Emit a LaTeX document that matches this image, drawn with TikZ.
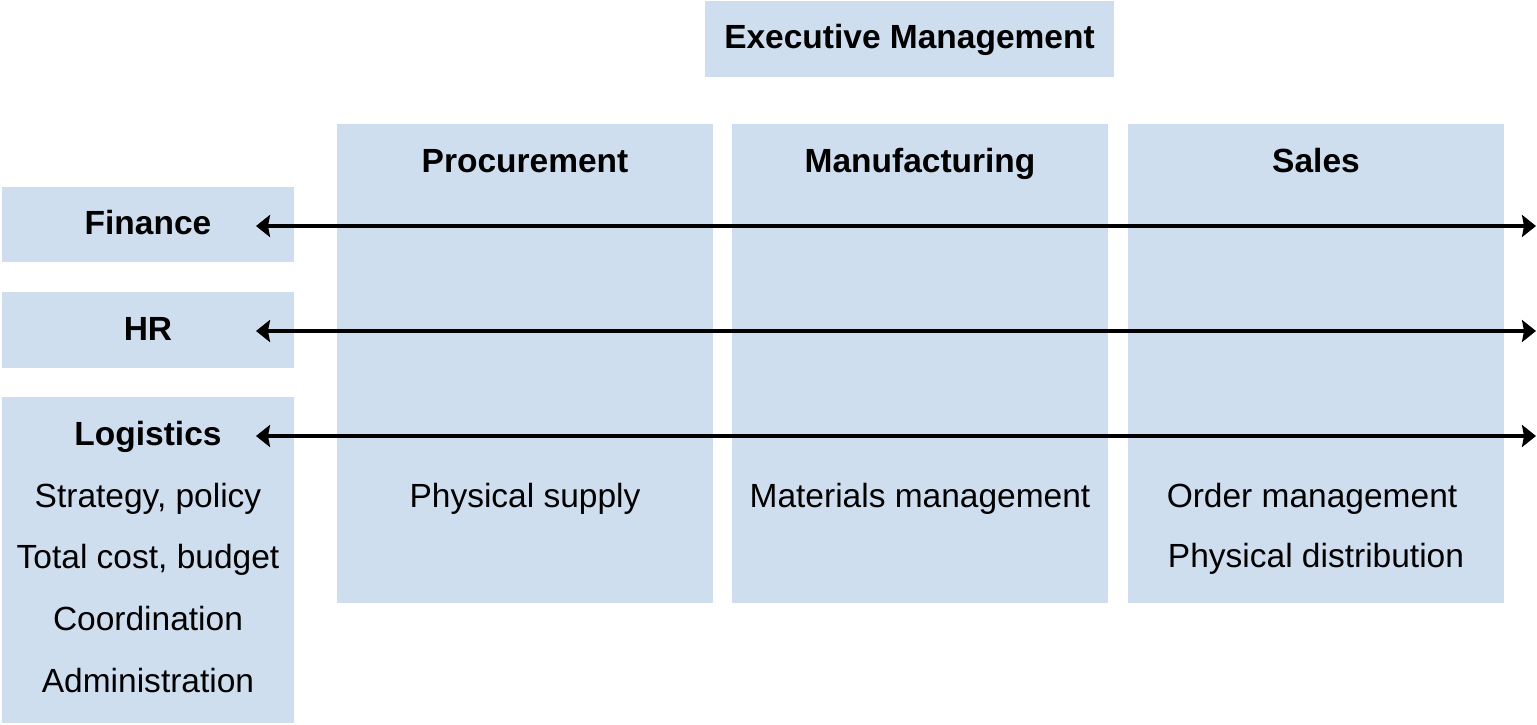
\documentclass[tikz,border=0pt]{standalone}
\usepackage{fontspec}
\setmainfont{Liberation Sans}
\usetikzlibrary{arrows.meta}
\definecolor{boxblue}{RGB}{207,222,239}
\tikzset{
  box/.style={fill=boxblue, draw=none},
  lbl/.style={anchor=base, inner sep=0pt, font=\fontsize{33.5bp}{40bp}\selectfont},
  hdr/.style={lbl, font=\fontsize{33.5bp}{40bp}\selectfont\bfseries},
  link/.style={line width=4.5bp, {Stealth[length=14bp,width=22bp,inset=2bp]}-{Stealth[length=14bp,width=22bp,inset=2bp]}}
}
\begin{document}
\begin{tikzpicture}[x=1bp,y=-1bp]
\useasboundingbox (0,0) rectangle (1537,725);
% boxes
\fill[box] (705,1) rectangle (1114,77) coordinate (execbr);
\fill[box] (337,124) rectangle (713,603);
\fill[box] (732,124) rectangle (1108,603);
\fill[box] (1128,124) rectangle (1504,603);
\fill[box] (2,187) rectangle (294,262);
\fill[box] (2,292) rectangle (294,368);
\fill[box] (2,397) rectangle (294,723);
% labels
\node[hdr] (exec) at (909.5,49) {Executive Management};
\node[hdr] (proc) at (525,172) {Procurement};
\node[hdr] (manu) at (920,172) {Manufacturing};
\node[hdr] (sales) at (1316,172) {Sales};
\node[hdr] (fin) at (148,234) {Finance};
\node[hdr] (hr) at (148,340) {HR};
\node[hdr] (log) at (148,445) {Logistics};
\node[lbl] (l1) at (148,507) {Strategy, policy};
\node[lbl] (l2) at (148,568) {Total cost, budget};
\node[lbl] (l3) at (148,630) {Coordination};
\node[lbl] (l4) at (148,692) {Administration};
\node[lbl] (p1) at (525,507) {Physical supply};
\node[lbl] (m1) at (920,507) {Materials management};
\node[lbl] (s1) at (1312,507) {Order management};
\node[lbl] (s2) at (1316,567) {Physical distribution};
% arrows
\coordinate (finL) at (256,226); \coordinate (finR) at (1536,226);
\coordinate (hrL) at (256,331);  \coordinate (hrR) at (1536,331);
\coordinate (logL) at (256,436); \coordinate (logR) at (1536,436);
\draw[link] (finL) -- (finR);
\draw[link] (hrL) -- (hrR);
\draw[link] (logL) -- (logR);
\end{tikzpicture}
\end{document}
